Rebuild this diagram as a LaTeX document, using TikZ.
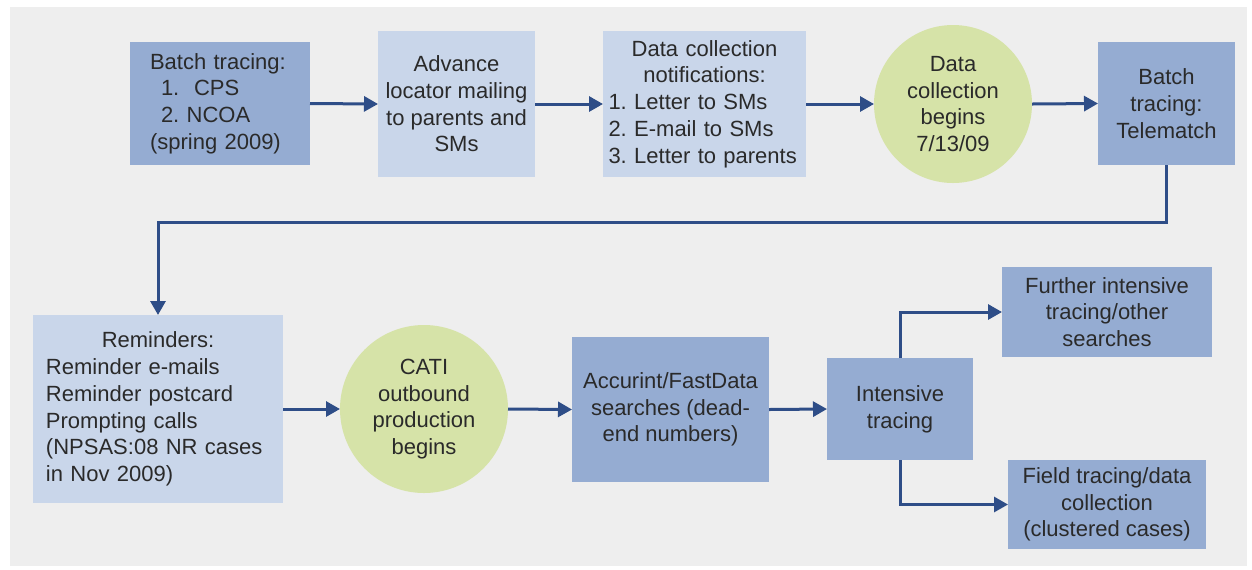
\documentclass[tikz,border=0pt]{standalone}
\usepackage{fontspec}
\setmainfont{Liberation Sans}
\usetikzlibrary{arrows.meta,positioning}
\definecolor{bgcol}{HTML}{EEEEEE}
\definecolor{midblue}{HTML}{95ACD2}
\definecolor{lightblue}{HTML}{C9D6EA}
\definecolor{greencirc}{HTML}{D6E3A8}
\definecolor{arrcol}{HTML}{2E4D87}
\definecolor{txtcol}{HTML}{2A2A2A}
\frenchspacing
\hyphenpenalty=10000
\tikzset{
  base/.style={inner sep=0pt, outer sep=0pt, text=txtcol, font=\fontsize{11}{13.35}\selectfont\frenchspacing},
  midbox/.style={base, rectangle, fill=midblue},
  lightbox/.style={base, rectangle, fill=lightblue},
  greencircle/.style={base, circle, fill=greencirc, align=center},
  arr/.style={draw=arrcol, line width=1.5pt, -{Triangle[length=7pt,width=7.5pt]}},
}
\begin{document}
\begin{tikzpicture}[x=0.5pt,y=-0.5pt]
\fill[white] (0,0) rectangle (1252,569);
\useasboundingbox (0,0) rectangle (1252,569);
\fill[bgcol] (10,7) rectangle (1247,566);

% top row
\node[midbox, minimum width=90pt, minimum height=61.5pt, text width=70pt, align=left] (b1) at (220,103.5)
  {Batch tracing:\\\hspace*{5.5pt}1.\ \ CPS\\\hspace*{5.5pt}2. NCOA\\(spring 2009)};
\node[lightbox, minimum width=78.5pt, minimum height=73pt, align=center] (b2) at (456.5,104)
  {Advance\\locator mailing\\to parents and\\SMs};
\node[lightbox, minimum width=101.5pt, minimum height=73pt, text width=96pt, align=left] (b3) at (704.5,104)
  {{\centering Data collection\\notifications:\par}1. Letter to SMs\\2. E-mail to SMs\\3. Letter to parents};
\node[greencircle, minimum size=79pt] (c1) at (953,104)
  {Data\\collection\\begins\\7/13/09};
\node[midbox, minimum width=68.5pt, minimum height=61.5pt, align=center] (b5) at (1166.5,103.5)
  {Batch\\tracing:\\Telematch};

% bottom row
\node[lightbox, minimum width=125pt, minimum height=94pt, text width=112pt, align=left] (rem) at (158,409)
  {{\centering Reminders:\par}Reminder e-mails\\Reminder postcard\\Prompting calls\\(NPSAS:08 NR cases\\in Nov 2009)};
\node[greencircle, minimum size=84pt] (c2) at (424,409)
  {CATI\\outbound\\production\\begins};
\node[midbox, minimum width=98.5pt, minimum height=72.5pt, align=center] (acc) at (670.5,409.5)
  {Accurint/FastData\\searches (dead-\\end numbers)};
\node[midbox, minimum width=73pt, minimum height=51pt, align=center] (int) at (900,409)
  {Intensive\\tracing};
\node[midbox, minimum width=105pt, minimum height=45pt, align=center] (fur) at (1107,312)
  {Further intensive\\tracing/other\\searches};
\node[midbox, minimum width=99pt, minimum height=44.5pt, align=center] (fld) at (1107,504.5)
  {Field tracing/data\\collection\\(clustered cases)};

\coordinate (turn) at (1166.5,222);

% connectors
\draw[arr] (b1.east) -- (b2.west);
\draw[arr] (b2.east) -- (b3.west);
\draw[arr] (b3.east) -- (c1.west);
\draw[arr] (c1.east) -- (b5.west);
\draw[arr] (b5.south) -- (turn) -| (rem.north);
\draw[arr] (rem.east) -- (c2.west);
\draw[arr] (c2.east) -- (acc.west);
\draw[arr] (acc.east) -- (int.west);
\draw[arr] (int.north) |- (fur.west);
\draw[arr] (int.south) |- (fld.west);
\end{tikzpicture}
\end{document}
